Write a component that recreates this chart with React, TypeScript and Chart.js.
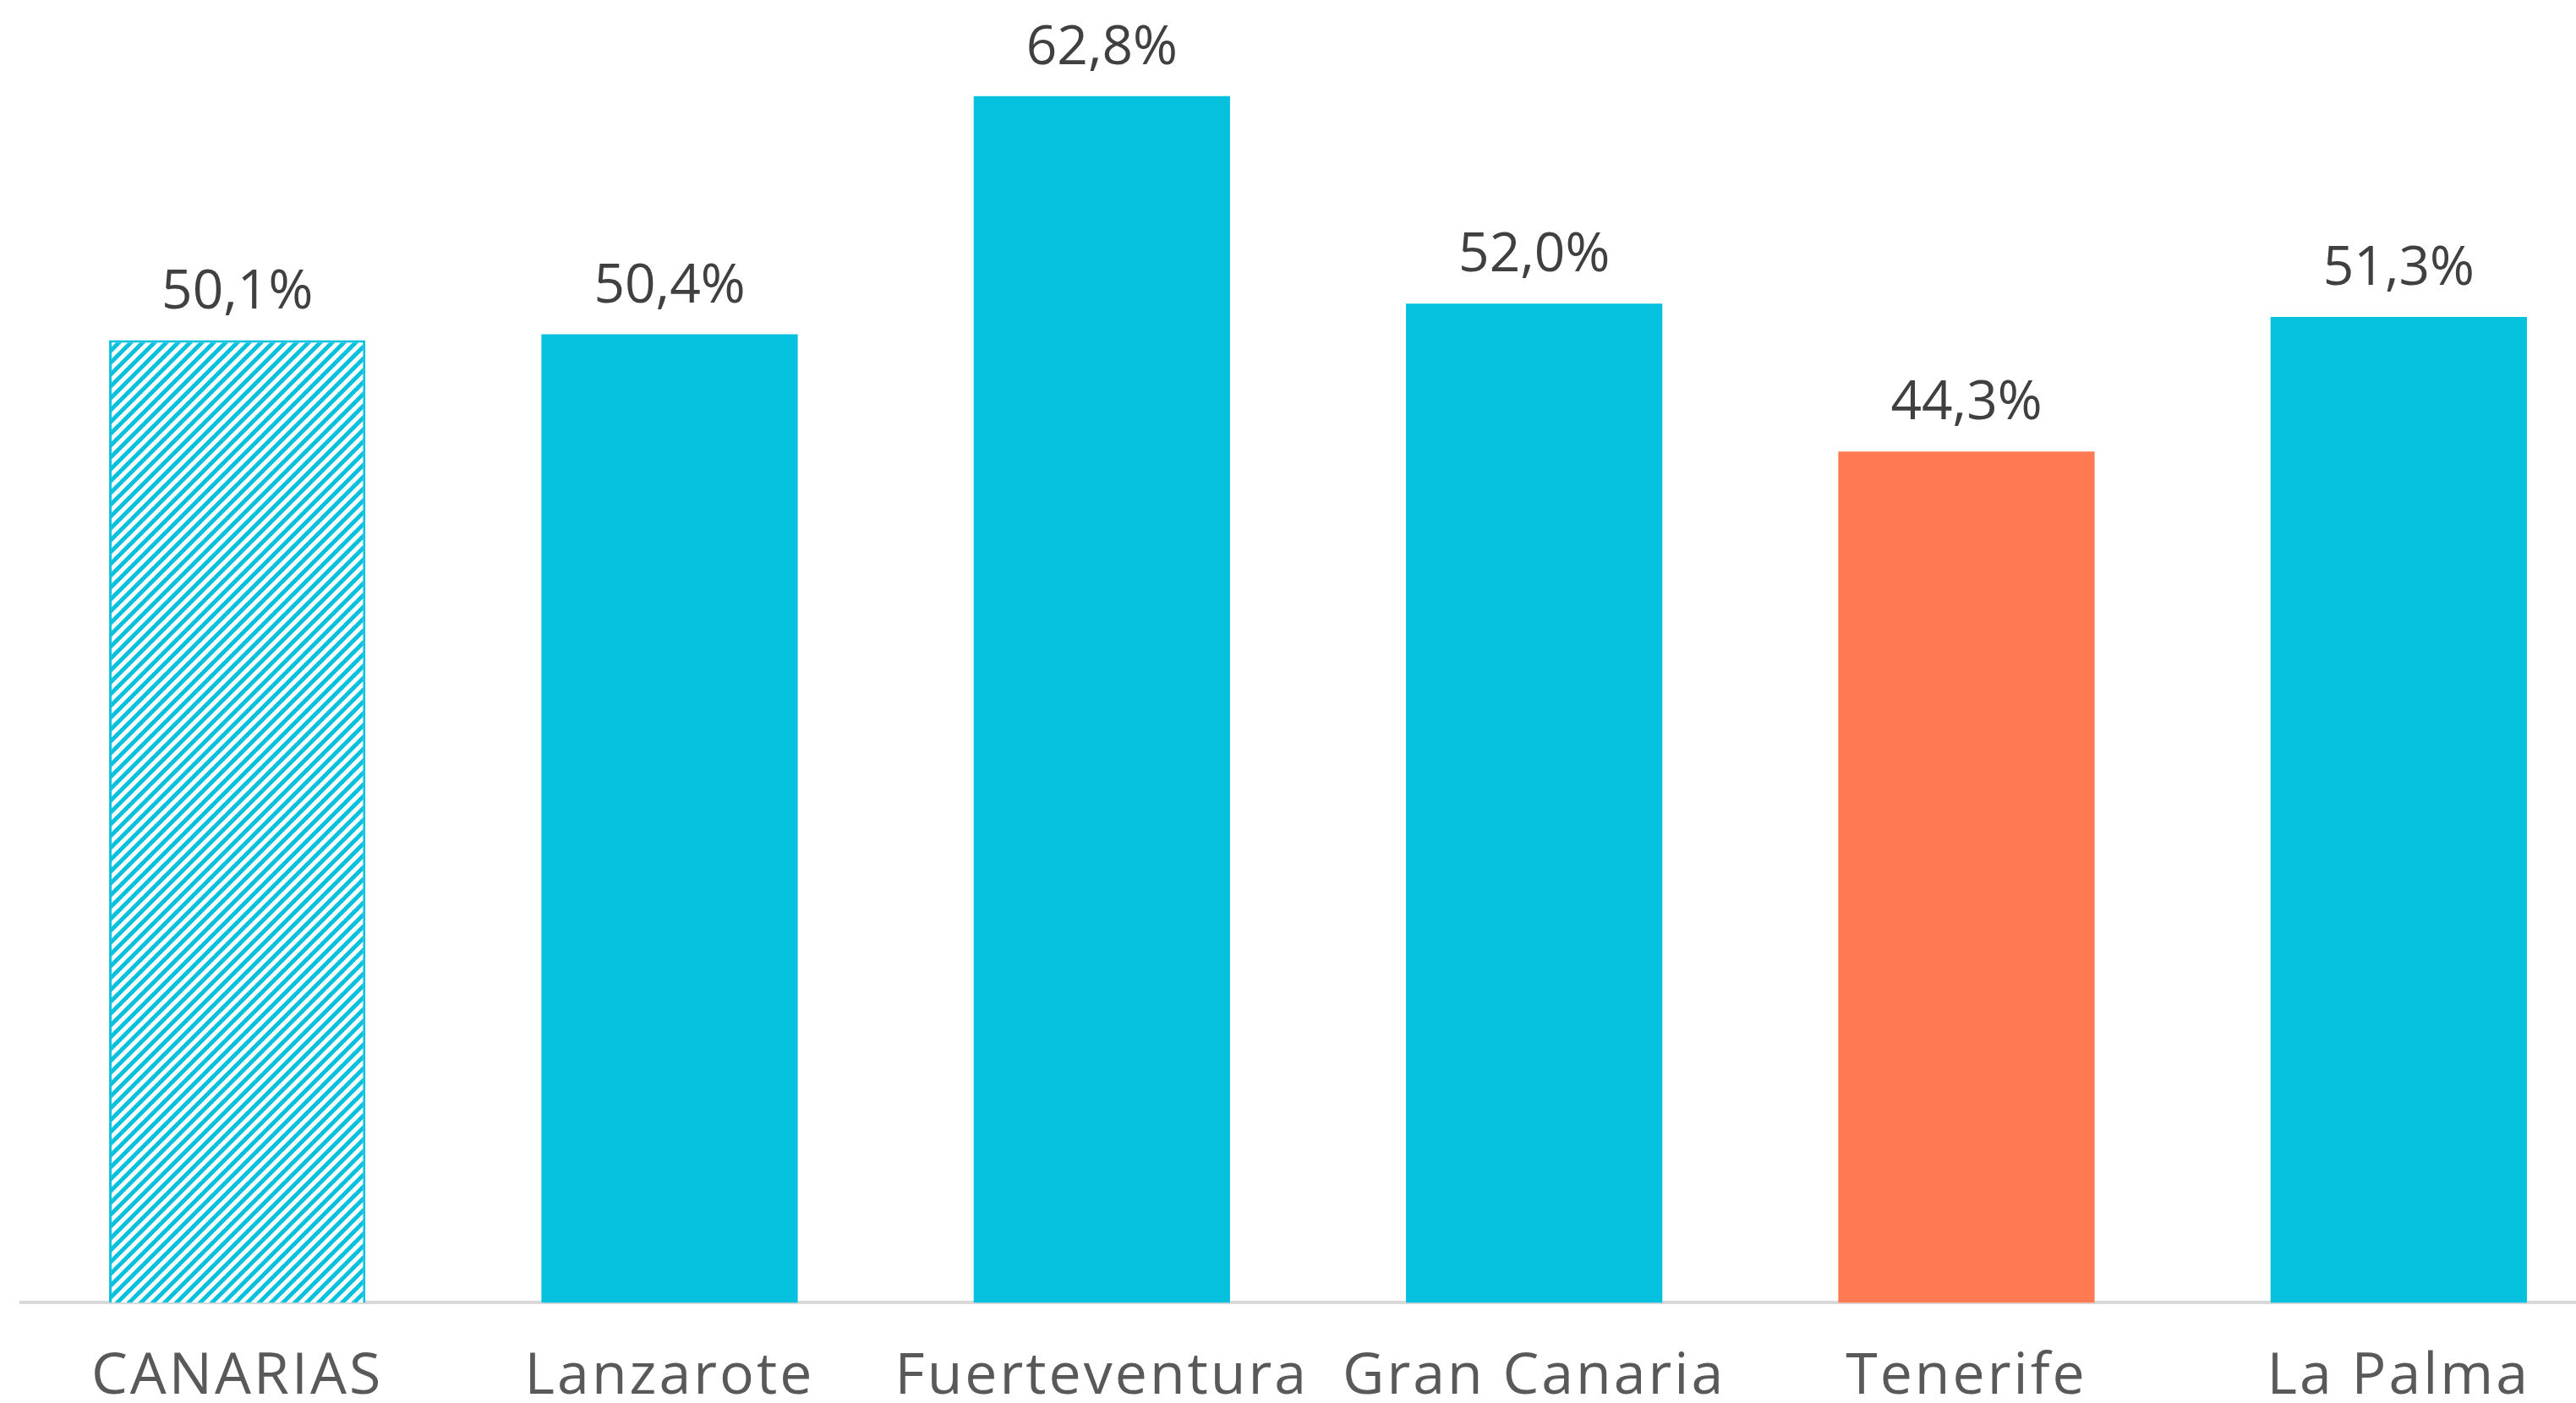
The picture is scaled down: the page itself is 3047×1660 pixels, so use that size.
import React, { useEffect, useRef } from "react";
import { Chart, registerables } from "chart.js";

Chart.register(...registerables);

const categories = ["CANARIAS", "Lanzarote", "Fuerteventura", "Gran Canaria", "Tenerife", "La Palma"];
const values = [50.1, 50.4, 62.8, 52.0, 44.3, 51.3];
const valueLabels = ["50,1%", "50,4%", "62,8%", "52,0%", "44,3%", "51,3%"];

const CYAN = "#06C1DE";
const ORANGE = "#FF7A52";
const FONT = "'Open Sans', sans-serif";

function makeHatch(): CanvasPattern | string {
  const size = 14;
  const c = document.createElement("canvas");
  c.width = size;
  c.height = size;
  const ctx = c.getContext("2d");
  if (!ctx) return CYAN;
  ctx.fillStyle = "#ffffff";
  ctx.fillRect(0, 0, size, size);
  ctx.strokeStyle = CYAN;
  ctx.lineWidth = 5;
  ctx.lineCap = "square";
  const lines = [
    [-size, size, size, -size],
    [0, size, size, 0],
    [0, 2 * size, 2 * size, 0],
  ];
  for (const [x1, y1, x2, y2] of lines) {
    ctx.beginPath();
    ctx.moveTo(x1, y1);
    ctx.lineTo(x2, y2);
    ctx.stroke();
  }
  return ctx.createPattern(c, "repeat") || CYAN;
}

const letterSpacingPlugin = {
  id: "letterSpacing",
  beforeDraw(chart: any) {
    (chart.ctx as any).letterSpacing = "3px";
  },
  afterDraw(chart: any) {
    (chart.ctx as any).letterSpacing = "0px";
  },
};

const valueLabelPlugin = {
  id: "valueLabels",
  afterDatasetsDraw(chart: any) {
    const { ctx } = chart;
    const meta = chart.getDatasetMeta(0);
    ctx.save();
    (ctx as any).letterSpacing = "0px";
    ctx.font = `400 64px ${FONT}`;
    ctx.fillStyle = "#404040";
    ctx.textAlign = "center";
    ctx.textBaseline = "middle";
    meta.data.forEach((bar: any, i: number) => {
      ctx.fillText(valueLabels[i], bar.x, bar.y - 56);
    });
    ctx.restore();
  },
};

export default function App() {
  const ref = useRef<HTMLCanvasElement>(null);

  useEffect(() => {
    if (!ref.current) return;
    const hatch = makeHatch();
    const bg = categories.map((c, i) => (i === 0 ? hatch : c === "Tenerife" ? ORANGE : CYAN));
    const chart = new Chart(ref.current, {
      type: "bar",
      data: {
        labels: categories,
        datasets: [
          {
            data: values,
            backgroundColor: bg as any,
            borderColor: categories.map((_, i) => (i === 0 ? CYAN : "rgba(0,0,0,0)")),
            borderWidth: categories.map((_, i) => (i === 0 ? 3 : 0)),
            categoryPercentage: 1,
            barPercentage: 0.593,
          },
        ],
      },
      options: {
        responsive: false,
        animation: false,
        devicePixelRatio: 1,
        layout: { padding: { left: 25, right: 0, top: 0, bottom: 0 } },
        plugins: {
          legend: { display: false },
          tooltip: { enabled: false },
        },
        scales: {
          x: {
            grid: { display: false, drawTicks: false },
            border: { display: true, color: "#D9D9D9", width: 4 },
            ticks: {
              padding: 47,
              color: "#595959",
              font: { family: FONT, size: 68, weight: "400" as any, lineHeight: 1.2 },
              maxRotation: 0,
              autoSkip: false,
            },
          },
          y: {
            display: false,
            min: 0,
            max: 67.8,
          },
        },
      },
      plugins: [letterSpacingPlugin, valueLabelPlugin],
    });
    return () => chart.destroy();
  }, []);

  return (
    <div
      style={{
        position: "fixed",
        left: 0,
        top: 0,
        width: "100vw",
        height: "100vh",
        overflow: "hidden",
        background: "#ffffff",
      }}
    >
      <canvas ref={ref} width={3093} height={1717} style={{ width: 3093, height: 1717, display: "block" }} />
    </div>
  );
}
